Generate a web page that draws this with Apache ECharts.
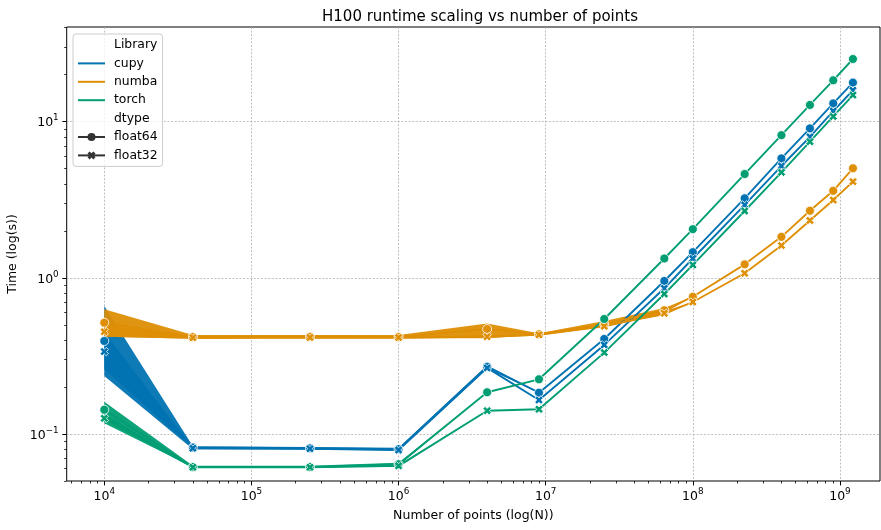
<!DOCTYPE html>
<html><head><meta charset="utf-8">
<script src="https://cdn.jsdelivr.net/npm/echarts@6/dist/echarts.min.js"></script>
<style>html,body{margin:0;padding:0;background:#fff}#c{width:881px;height:530px}</style>
</head><body><div id="c"></div>
<script>
// ---- data ----
const points = [1e4, 4e4, 2.5e5, 1e6, 4e6, 9e6, 2.5e7, 6.4e7, 1e8, 2.25e8, 4e8, 6.25e8, 9e8, 1.225e9];

const cupy64  = [0.394, 0.082, 0.081, 0.080, 0.270, 0.184, 0.406, 0.955, 1.46, 3.23, 5.82, 9.06, 13.1, 17.8];
const cupy32  = [0.337, 0.081, 0.0805, 0.079, 0.265, 0.165, 0.372, 0.857, 1.33, 2.93, 5.20, 8.00, 11.7, 15.9];
const numba64 = [0.516, 0.418, 0.420, 0.418, 0.470, 0.435, 0.505, 0.620, 0.757, 1.22, 1.83, 2.69, 3.61, 5.03];
const numba32 = [0.452, 0.414, 0.415, 0.415, 0.420, 0.432, 0.490, 0.593, 0.700, 1.07, 1.61, 2.33, 3.15, 4.13];
const torch64 = [0.143, 0.0615, 0.0615, 0.0640, 0.185, 0.224, 0.545, 1.33, 2.05, 4.62, 8.2, 12.8, 18.4, 25.2];
const torch32 = [0.126, 0.0612, 0.0612, 0.0625, 0.141, 0.144, 0.332, 0.788, 1.21, 2.68, 4.74, 7.45, 10.8, 14.8];

// confidence bands (null = band collapses onto the line value)
const cupy64Lo  = [0.235, 0.0800, 0.0795, 0.0785, 0.262, null, null, null, null, null, null, null, null, null];
const cupy64Hi  = [0.660, 0.0835, 0.0825, 0.0815, 0.276, null, null, null, null, null, null, null, null, null];
const cupy32Lo  = [0.260, null, null, null, null, null, null, null, null, null, null, null, null, null];
const cupy32Hi  = [0.450, null, null, null, null, null, null, null, null, null, null, null, null, null];
const numba64Lo = [0.420, 0.407, 0.408, 0.407, 0.412, 0.428, 0.485, 0.595, null, null, null, null, null, null];
const numba64Hi = [0.630, 0.430, 0.430, 0.430, 0.510, 0.442, 0.530, 0.640, null, null, null, null, null, null];
const numba32Lo = [0.420, 0.408, null, null, 0.410, null, null, 0.575, null, null, null, null, null, null];
const numba32Hi = [0.500, 0.420, null, null, 0.430, null, null, 0.610, null, null, null, null, null, null];
const torch64Lo = [0.125, 0.0605, 0.0605, 0.0625, null, null, null, null, null, null, null, null, null, null];
const torch64Hi = [0.161, 0.0625, 0.0625, 0.0655, null, null, null, null, null, null, null, null, null, null];
const torch32Lo = [0.117, null, null, 0.0615, null, null, null, null, null, null, null, null, null, null];
const torch32Hi = [0.135, null, null, 0.0632, null, null, null, null, null, null, null, null, null, null];

const libraries = ['cupy', 'numba', 'torch'];
const dtypes = ['float64', 'float32'];
const xMajorTicks = [1e4, 1e5, 1e6, 1e7, 1e8, 1e9];
const yMajorTicks = [0.1, 1, 10];
const xMinorTicks = [6e3, 7e3, 8e3, 9e3,
  2e4, 3e4, 4e4, 5e4, 6e4, 7e4, 8e4, 9e4,
  2e5, 3e5, 4e5, 5e5, 6e5, 7e5, 8e5, 9e5,
  2e6, 3e6, 4e6, 5e6, 6e6, 7e6, 8e6, 9e6,
  2e7, 3e7, 4e7, 5e7, 6e7, 7e7, 8e7, 9e7,
  2e8, 3e8, 4e8, 5e8, 6e8, 7e8, 8e8, 9e8];
const yMinorTicks = [0.05, 0.06, 0.07, 0.08, 0.09,
  0.2, 0.3, 0.4, 0.5, 0.6, 0.7, 0.8, 0.9,
  2, 3, 4, 5, 6, 7, 8, 9, 20, 30, 40];

// ---- styling ----
const colors = { cupy: '#0173b2', numba: '#de8f05', torch: '#029e73' };
const FONT = 'DejaVu Sans';
const XMARK = 'path://M0,2.6 L2.6,0 L5,2.4 L7.4,0 L10,2.6 L7.6,5 L10,7.4 L7.4,10 L5,7.6 L2.6,10 L0,7.4 L2.4,5 Z';
const symbols = { float64: 'circle', float32: XMARK };
const symbolSizes = { float64: 9, float32: 8.5 };

const seriesDefs = [
  { lib: 'cupy',  dt: 'float64', y: cupy64,  lo: cupy64Lo,  hi: cupy64Hi },
  { lib: 'cupy',  dt: 'float32', y: cupy32,  lo: cupy32Lo,  hi: cupy32Hi },
  { lib: 'numba', dt: 'float64', y: numba64, lo: numba64Lo, hi: numba64Hi },
  { lib: 'numba', dt: 'float32', y: numba32, lo: numba32Lo, hi: numba32Hi },
  { lib: 'torch', dt: 'float64', y: torch64, lo: torch64Lo, hi: torch64Hi },
  { lib: 'torch', dt: 'float32', y: torch32, lo: torch32Lo, hi: torch32Hi }
];

function supLabel(v) {
  const e = Math.round(Math.log10(v));
  const s = e < 0 ? '\u2212' + (-e) : String(e);
  return '{b|10}{s|' + s + '}';
}
const richSup = {
  b: { fontSize: 12.5, fontFamily: FONT, color: '#000', lineHeight: 16, verticalAlign: 'bottom' },
  s: { fontSize: 8.8, fontFamily: FONT, color: '#000', lineHeight: 16, verticalAlign: 'top' }
};

const series = [];
// bands + lines, drawn library by library
libraries.forEach(lib => {
  seriesDefs.filter(d => d.lib === lib).forEach(d => {
    const bandData = points.map((x, i) => [x,
      d.lo[i] == null ? d.y[i] : d.lo[i],
      d.hi[i] == null ? d.y[i] : d.hi[i]]);
    series.push({
      type: 'custom', name: lib + ' ' + d.dt + ' ci', silent: true,
      xAxisIndex: 0, yAxisIndex: 0, clip: true,
      encode: { x: 0, y: [1, 2] },
      data: bandData,
      renderItem: (params, api) => {
        if (params.dataIndexInside !== 0) return null;
        const n = params.dataInsideLength;
        const up = [], dn = [];
        for (let j = 0; j < n; j++) {
          up.push(api.coord([api.value(0, j), api.value(2, j)]));
          dn.push(api.coord([api.value(0, j), api.value(1, j)]));
        }
        return { type: 'polygon', shape: { points: up.concat(dn.reverse()) },
                 style: { fill: colors[lib], opacity: 0.95 } };
      }
    });
  });
  seriesDefs.filter(d => d.lib === lib).forEach(d => {
    series.push({
      type: 'line', name: lib + ' ' + d.dt,
      data: points.map((x, i) => [x, d.y[i]]),
      symbol: symbols[d.dt], symbolSize: symbolSizes[d.dt], showSymbol: true,
      lineStyle: { color: colors[lib], width: 1.9 },
      itemStyle: { color: colors[lib], borderColor: '#fff', borderWidth: 0.8 },
      emphasis: { disabled: true }
    });
  });
});
// legend-only series
series.push({ type: 'line', name: 'Library', data: [], symbol: 'none', lineStyle: { opacity: 0 }, itemStyle: { opacity: 0 } });
libraries.forEach(lib => series.push({ type: 'line', name: lib, data: [], symbol: 'none',
  lineStyle: { color: colors[lib], width: 1.9 }, itemStyle: { color: colors[lib] } }));
series.push({ type: 'line', name: 'dtype', data: [], symbol: 'none', lineStyle: { opacity: 0 }, itemStyle: { opacity: 0 } });
dtypes.forEach(dt => series.push({ type: 'line', name: dt, data: [], symbol: symbols[dt],
  lineStyle: { color: '#333', width: 1.9 }, itemStyle: { color: '#333', borderColor: '#fff', borderWidth: 0.8 } }));

const X_MIN = 5553, X_MAX = 1.871e9, Y_MIN = 0.05, Y_MAX = 40.4;
const gridLine = { show: true, lineStyle: { color: '#b0b0b0', width: 0.8, type: [2, 1.6] } };

const option = {
  animation: false,
  textStyle: { fontFamily: FONT },
  title: {
    text: 'H100 runtime scaling vs number of points',
    left: 475, top: 5, textAlign: 'center',
    textStyle: { fontSize: 15, fontWeight: 'normal', color: '#000', fontFamily: FONT }
  },
  grid: { left: 66.7, right: 1, top: 27, bottom: 49, show: true, borderColor: '#000', borderWidth: 1,
          backgroundColor: 'transparent', outerBoundsMode: 'none', containLabel: false },
  legend: {
    orient: 'vertical', left: 73, top: 34, selectedMode: false,
    itemWidth: 27, itemHeight: 10, itemGap: 4.4, padding: [4, 5, 4, 4],
    backgroundColor: 'rgba(255,255,255,0.8)', borderColor: '#cccccc', borderWidth: 1, borderRadius: 3,
    textStyle: { fontSize: 12.4, color: '#000', fontFamily: FONT, lineHeight: 14, padding: [0, 0, 0, 4] },
    data: [
      { name: 'Library', icon: 'none' },
      { name: 'cupy', itemStyle: { opacity: 0 } },
      { name: 'numba', itemStyle: { opacity: 0 } },
      { name: 'torch', itemStyle: { opacity: 0 } },
      { name: 'dtype', icon: 'none' },
      { name: 'float64', itemStyle: { borderWidth: 0 } },
      { name: 'float32', itemStyle: { borderWidth: 0 } }
    ]
  },
  xAxis: [
    {
      type: 'log', min: X_MIN, max: X_MAX, position: 'bottom',
      name: 'Number of points (log(N))', nameLocation: 'middle', nameGap: 28,
      nameTextStyle: { fontSize: 12.5, color: '#000', fontFamily: FONT },
      axisLine: { show: false },
      axisTick: { customValues: xMajorTicks, length: 4.4, lineStyle: { color: '#000', width: 1 } },
      axisLabel: { customValues: xMajorTicks, formatter: supLabel, rich: richSup, margin: 6 },
      splitLine: gridLine
    },
    {
      type: 'log', min: X_MIN, max: X_MAX, position: 'bottom',
      axisLine: { show: false },
      axisTick: { customValues: xMinorTicks, length: 2.5, lineStyle: { color: '#000', width: 0.8 } },
      axisLabel: { show: false }, splitLine: { show: false }
    }
  ],
  yAxis: [
    {
      type: 'log', min: Y_MIN, max: Y_MAX, position: 'left',
      name: 'Time (log(s))', nameLocation: 'middle', nameGap: 39,
      nameTextStyle: { fontSize: 12.5, color: '#000', fontFamily: FONT },
      axisLine: { show: false },
      axisTick: { customValues: yMajorTicks, length: 4.4, lineStyle: { color: '#000', width: 1 } },
      axisLabel: { customValues: yMajorTicks, formatter: supLabel, rich: richSup, margin: 8 },
      splitLine: gridLine
    },
    {
      type: 'log', min: Y_MIN, max: Y_MAX, position: 'left',
      axisLine: { show: false },
      axisTick: { customValues: yMinorTicks, length: 2.5, lineStyle: { color: '#000', width: 0.8 } },
      axisLabel: { show: false }, splitLine: { show: false }
    }
  ],
  series: series
};

const chart = echarts.init(document.getElementById('c'), null, { renderer: 'canvas' });
chart.setOption(option);
</script>
</body></html>
